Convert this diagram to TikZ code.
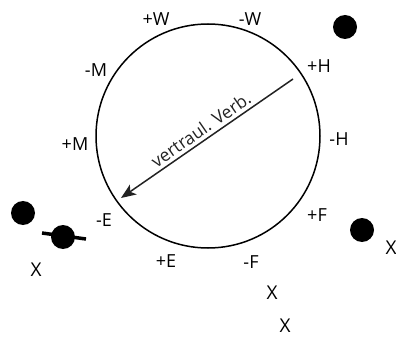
\documentclass[tikz,border=0pt]{standalone}
\usepackage{fontspec}
\setmainfont{Open Sans}
\usetikzlibrary{arrows.meta}
\definecolor{ink}{HTML}{222222}
\tikzset{
  lbl/.style={font=\fontsize{18}{19}\selectfont,inner sep=0pt},
  cross/.style={font=\fontsize{19}{20}\selectfont,inner sep=0pt},
  blob/.style={circle,fill=black,minimum size=24pt,inner sep=0pt}
}
\begin{document}
\begin{tikzpicture}[x=1pt,y=-1pt]
  \useasboundingbox (0,0) rectangle (396,339);
  % circle of the roles
  \node[circle,draw,line width=1.5pt,minimum size=224pt,inner sep=0pt] (ring) at (208,136) {};
  \foreach \nm/\tx/\px/\py in {pw/+W/156/19.5, mw/-W/250/19.5, mm/-M/96/70, ph/+H/319/66,
      pm/+M/75/144, mh/-H/339/139, me/-E/104/220, pf/+F/317/215, pe/+E/166/261.5, mf/-F/251/262} {
    \node[lbl] (\nm) at (\px,\py) {\tx};
  }
  % arrow across
  \coordinate (from) at (293,79);
  \coordinate (to) at (121,198);
  \draw[ink,line width=1.5pt,-{Stealth[length=15pt,width=12pt,inset=4pt]}] (from) -- (to)
    node[midway,sloped,above=0pt,font=\fontsize{17.5}{18}\selectfont,text=ink] (lab) {vertraul. Verb.};
  % dots
  \node[blob] (d1) at (345,27) {};
  \node[blob] (d2) at (23,213) {};
  \node[blob] (d3) at (63,237) {};
  \node[blob] (d4) at (362,230) {};
  \coordinate (barL) at (42,233);
  \coordinate (barR) at (86,239);
  \draw[line width=3.5pt] (barL) -- (barR);
  % crosses
  \node[cross] (x1) at (36,270) {X};
  \node[cross] (x2) at (391,248) {X};
  \node[cross] (x3) at (272,293) {X};
  \node[cross] (x4) at (285,326) {X};
\end{tikzpicture}
\end{document}
